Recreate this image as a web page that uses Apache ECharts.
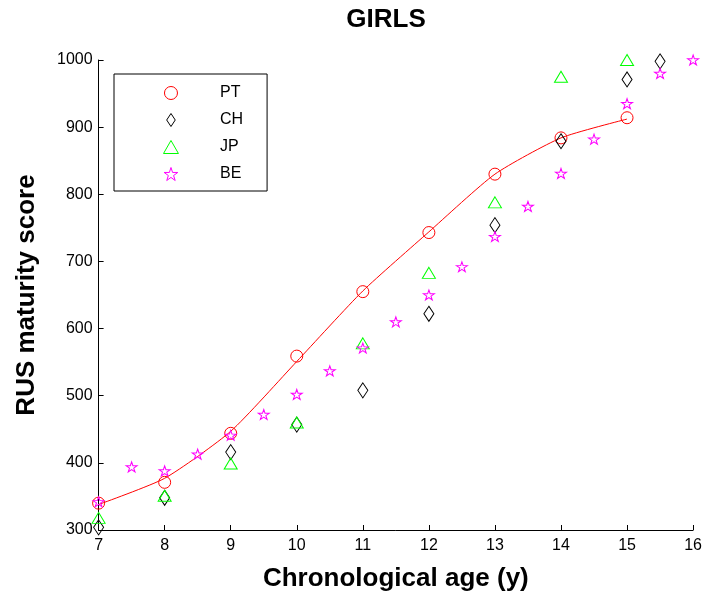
<!DOCTYPE html>
<html>
<head>
<meta charset="utf-8">
<script src="https://cdn.jsdelivr.net/npm/echarts@6/dist/echarts.min.js"></script>
<style>
  html, body { margin: 0; padding: 0; background: #fff; }
  #main { width: 705px; height: 598px; }
</style>
</head>
<body>
<div id="main"></div>
<script>
// values
var ptData = [[7, 340], [8, 371], [9, 444], [10, 559], [11, 655], [12, 743], [13, 830], [14, 884], [15, 914]];
var ptFit = [[7, 338], [8, 377], [9, 447], [10, 551], [11, 656], [12, 744], [13, 830], [14, 884], [15, 912]];
var chData = [[7, 304], [8, 348], [9, 416], [10, 457], [11, 508], [12, 622], [13, 754], [14, 879], [15, 971], [15.5, 998]];
var jpData = [[7, 318], [8, 351], [9, 399], [10, 460], [11, 578], [12, 683], [13, 788], [14, 975], [15, 1000]];
var beData = [[7, 342], [7.5, 394], [8, 388], [8.5, 413], [9, 441], [9.5, 472], [10, 502], [10.5, 537],
  [11, 571], [11.5, 610], [12, 650], [12.5, 692], [13, 737], [13.5, 782], [14, 831], [14.5, 882],
  [15, 935], [15.5, 980], [16, 1000]];

var font = "'Liberation Sans', Arial, sans-serif";

// marker shapes (matlab-ish)
var diamond = "path://M33 0 L66 50 L33 100 L0 50 Z";
var triangle = "path://M50 0 L100 87 L0 87 Z";
var star = "path://M50 0 L61.2 34.5 L97.6 34.5 L68.2 55.9 L79.4 90.5 L50 69.1 L20.6 90.5 L31.8 55.9 L2.4 34.5 L38.8 34.5 Z";

function markers(name, data, symbol, size, color) {
  return {
    name: name,
    type: "scatter",
    data: data,
    symbol: symbol,
    symbolSize: size,
    clip: false,
    z: 3,
    itemStyle: {
      color: "rgba(0,0,0,0)",
      borderColor: color,
      borderWidth: 1,
      opacity: 1
    }
  };
}

var myChart = echarts.init(document.getElementById("main"));
myChart.setOption({
  animation: false,
  title: {
    text: "GIRLS",
    left: 381,
    top: 2,
    textAlign: "center",
    textStyle: { fontFamily: font, fontSize: 26, fontWeight: "bold", color: "#000" }
  },
  legend: {
    orient: "vertical",
    left: 114,
    top: 74,
    padding: [11, 24, 9, 49],
    itemWidth: 88,
    itemHeight: 13,
    itemGap: 11,
    symbolKeepAspect: true,
    borderColor: "#000",
    borderWidth: 1,
    backgroundColor: "#fff",
    itemStyle: { borderWidth: 1 },
    data: ["PT", "CH", "JP", "BE"],
    textStyle: { fontFamily: font, fontSize: 16, color: "#000" }
  },
  grid: {
    left: 98.6,
    right: 9.3,
    top: 60,
    bottom: 68
  },
  xAxis: {
    type: "value",
    min: 7,
    max: 16,
    interval: 1,
    name: "Chronological age (y)",
    nameLocation: "middle",
    nameGap: 36,
    nameTextStyle: { fontFamily: font, fontSize: 26, fontWeight: "bold", color: "#000" },
    axisLine: { lineStyle: { color: "#000", width: 1 } },
    axisTick: { inside: true, length: 5, lineStyle: { color: "#000" } },
    axisLabel: { margin: 8, fontFamily: font, fontSize: 16, color: "#000" },
    splitLine: { show: false }
  },
  yAxis: {
    type: "value",
    min: 300,
    max: 1000,
    interval: 100,
    name: "RUS maturity score",
    nameLocation: "middle",
    nameGap: 59,
    nameTextStyle: { fontFamily: font, fontSize: 26, fontWeight: "bold", color: "#000" },
    axisLine: { show: true, lineStyle: { color: "#000", width: 1 } },
    axisTick: { show: true, inside: true, length: 5, lineStyle: { color: "#000" } },
    axisLabel: {
      margin: 6, fontFamily: font, fontSize: 16, color: "#000",
      formatter: function (v) { return String(v); }
    },
    splitLine: { show: false }
  },
  series: [
    {
      name: "fit",
      type: "line",
      data: ptFit,
      smooth: 0.2,
      symbol: "none",
      clip: false,
      z: 2,
      lineStyle: { color: "#ff0000", width: 1 }
    },
    markers("PT", ptData, "circle", 12, "#ff0000"),
    markers("CH", chData, diamond, [10, 15], "#000000"),
    markers("JP", jpData, triangle, [13, 11], "#00ff00"),
    markers("BE", beData, star, [11, 10], "#ff00ff")
  ]
});
</script>
</body>
</html>
